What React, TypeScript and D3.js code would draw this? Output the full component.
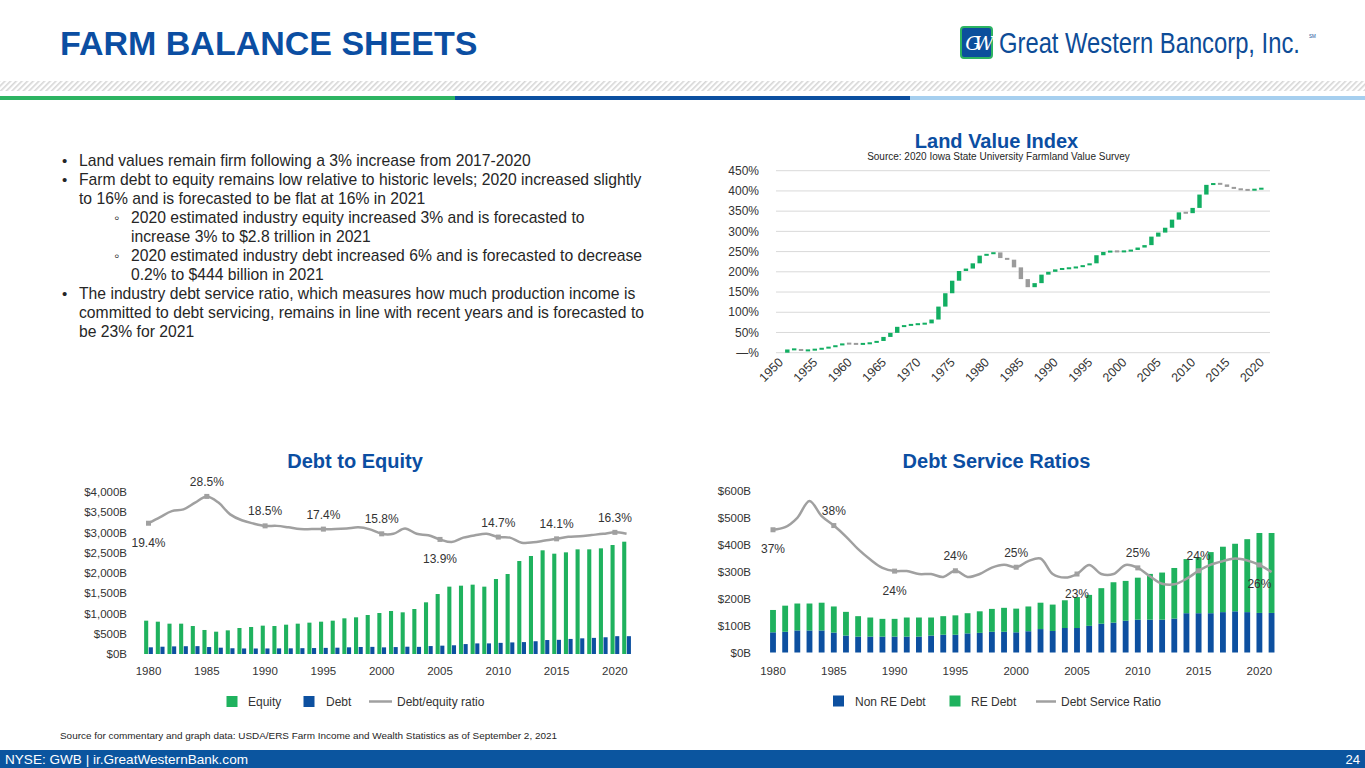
import React from 'react';
import * as d3 from 'd3';

const FONT = '"Liberation Sans", Arial, Helvetica, sans-serif';
const TITLE_BLUE = '#0B4EA2';
const GREEN = '#1FB25E';
const WF_GREEN = '#12AE62';
const WF_GRAY = '#9B9B9B';
const BLUE = '#0D50A0';
const LINE_GRAY = '#A0A0A0';
const TEXT = '#333333';

// ---------------- Land Value Index (annual change, % points of 1950 base) ----------------
const lvYears = d3.range(1950, 2021);
const lvChange = [
  0, 8, 0.5, -3.5, 1.5, 2, 2.5, 3, 4, 5,
  -1, -0.5, 0.5, 2.5, 4.5, 10, 10, 15, 3.5, 2.5,
  1, 1.5, 9.5, 32, 33, 31, 24, 6, 13, 19,
  4, 4, -14, -4, -19, -29, -20, 10, 21, 7,
  6, 2, 1.5, 2.5, 4, 5, 20, 8, 2, -1,
  1, 3, 6, 6, 21, 10, 12, 20, 18, -2,
  13, 33, 24, 4, -3, -6, -5, -2, -1, 2,
  3,
];
const lvTickYears = [1950, 1955, 1960, 1965, 1970, 1975, 1980, 1985, 1990, 1995, 2000, 2005, 2010, 2015, 2020];
const lvTicks = [0, 50, 100, 150, 200, 250, 300, 350, 400, 450];

// ---------------- Debt to Equity ----------------
const deYears = d3.range(1980, 2022);
const deEquity = [
  823, 798, 749, 749, 691, 593, 551, 584, 642, 667,
  700, 691, 724, 749, 774, 798, 823, 881, 906, 963,
  1012, 1062, 1029, 1111, 1276, 1481, 1663, 1687, 1712, 1663,
  1852, 1975, 2296, 2420, 2560, 2477, 2510, 2584, 2584, 2609,
  2691, 2773,
];
const deDebt = [
  165, 180, 188, 192, 194, 172, 156, 142, 137, 136,
  137, 139, 140, 144, 147, 151, 156, 165, 173, 176,
  164, 171, 180, 176, 196, 206, 215, 245, 262, 262,
  275, 286, 294, 315, 345, 350, 372, 387, 398, 413,
  440, 440,
];
const deRatio = [
  19.4, 21.5, 23.5, 24.1, 26.4, 28.5, 26.4, 22.4, 20.4, 19.3,
  18.5, 18.5, 18.0, 17.4, 17.4, 17.4, 17.4, 17.6, 18.0, 17.3,
  15.8, 15.8, 17.6, 15.8, 15.3, 13.9, 13.0, 14.5, 15.3, 15.8,
  14.7, 14.5, 12.8, 12.9, 13.5, 14.1, 14.8, 15.0, 15.4, 15.8,
  16.3, 15.8,
];
const deTicks = [0, 500, 1000, 1500, 2000, 2500, 3000, 3500, 4000];
const deLabelYears = [1980, 1985, 1990, 1995, 2000, 2005, 2010, 2015, 2020];
const deLabelBelow = [1980, 2005];
const xTickYears = [1980, 1985, 1990, 1995, 2000, 2005, 2010, 2015, 2020];

// ---------------- Debt Service Ratios ----------------
const dsYears = d3.range(1980, 2022);
const dsNonRE = [
  75, 77, 82, 82, 82, 74, 63, 59, 59, 59,
  59, 59, 59, 63, 66, 66, 71, 73, 77, 77,
  75, 79, 87, 80, 91, 91, 99, 107, 111, 118,
  122, 122, 122, 126, 146, 146, 146, 150, 153, 150,
  147, 147,
];
const dsRE = [
  83, 97, 100, 100, 103, 97, 88, 76, 71, 66,
  66, 71, 71, 67, 69, 72, 75, 80, 85, 89,
  88, 92, 98, 98, 103, 115, 115, 132, 150, 148,
  156, 170, 175, 188, 201, 208, 227, 243, 251, 271,
  297, 297,
];
const dsRatio = [
  37, 37.8, 40.7, 45.9, 41.2, 38.3, 34.9, 31, 27.8, 25.2,
  24.2, 24.2, 23.3, 23.3, 22.4, 24.3, 22.4, 23.3, 25.3, 26.2,
  25.4, 27.3, 28.1, 23.3, 22.2, 23.3, 26.1, 23.3, 23.3, 26.1,
  25.2, 22.6, 20.3, 20.1, 21.8, 24.3, 26.2, 27.3, 28.1, 27.5,
  26.1, 23.9,
];
const dsTicks = [0, 100, 200, 300, 400, 500, 600];
const dsLabelYears = [1980, 1985, 1990, 1995, 2000, 2005, 2010, 2015, 2020];
const dsLabelBelow = [1980, 1990, 2005, 2020];

// ---------------- Text ----------------
const bulletLines = [
  { mark: '•', text: 'Land values remain firm following a 3% increase from 2017-2020', level: 0 },
  { mark: '•', text: 'Farm debt to equity remains low relative to historic levels; 2020 increased slightly', level: 0 },
  { mark: '', text: 'to 16% and is forecasted to be flat at 16% in 2021', level: 0 },
  { mark: '◦', text: '2020 estimated industry equity increased 3% and is forecasted to', level: 1 },
  { mark: '', text: 'increase 3% to $2.8 trillion in 2021', level: 1 },
  { mark: '◦', text: '2020 estimated industry debt increased 6% and is forecasted to decrease', level: 1 },
  { mark: '', text: '0.2% to $444 billion in 2021', level: 1 },
  { mark: '•', text: 'The industry debt service ratio, which measures how much production income is', level: 0 },
  { mark: '', text: 'committed to debt servicing, remains in line with recent years and is forecasted to', level: 0 },
  { mark: '', text: 'be 23% for 2021', level: 0 },
];

function Header() {
  return (
    <g>
      <text x={60} y={55} fontSize={34} fontWeight="bold" fill={TITLE_BLUE}>FARM BALANCE SHEETS</text>
      <rect x={961} y={27} width={31} height={31} rx={3} fill="#0B4F9C" stroke="#2DB462" strokeWidth={2} />
      <text x={976.5} y={50} textAnchor="middle" fontFamily='"DejaVu Serif", serif' fontStyle="italic" fontSize={19} fill="#fff" letterSpacing={-6}>GW</text>
      <text transform="translate(999,53) scale(1,1.2)" fontSize={23.8} fill="#0D4C97">Great Western Bancorp, Inc.</text>
      <text x={1309} y={38} fontSize={4.5} fill="#0D4C97">SM</text>
      <rect x={0} y={81} width={1365} height={10} fill="url(#hatch)" />
      <rect x={0} y={96} width={455} height={4} fill="#2DB462" />
      <rect x={455} y={96} width={455} height={4} fill="#0B4FA0" />
      <rect x={910} y={96} width={455} height={4} fill="#A6CFEF" />
    </g>
  );
}

function Bullets() {
  return (
    <g fontSize={15.7} fill="#262626">
      {bulletLines.map((l, i) => {
        const y = 165.5 + i * 19.1;
        const mx = l.level === 0 ? 62 : 114;
        const tx = l.level === 0 ? 79 : 131;
        return (
          <g key={i}>
            {l.mark && <text x={mx} y={y} fontSize={15}>{l.mark}</text>}
            <text x={tx} y={y}>{l.text}</text>
          </g>
        );
      })}
    </g>
  );
}

function LandValue() {
  const step = 6.87;
  const x = d3.scaleBand<number>().domain(lvYears).range([777, 777 + lvYears.length * step]).paddingInner(0.36).paddingOuter(0.18);
  const y = d3.scaleLinear().domain([0, 450]).range([352.7, 170.7]);
  const cum = Array.from(d3.cumsum(lvChange));
  const bw = x.bandwidth();
  return (
    <g>
      <text x={996.5} y={148} textAnchor="middle" fontSize={20} fontWeight="bold" fill={TITLE_BLUE}>Land Value Index</text>
      <text x={998.5} y={160} textAnchor="middle" fontSize={10} fill="#262626">Source: 2020 Iowa State University Farmland Value Survey</text>
      {lvTicks.map((t) => (
        <g key={t}>
          <line x1={776} x2={1270} y1={y(t)} y2={y(t)} stroke="#D9D9D9" strokeWidth={1} />
          <text x={759} y={y(t) + 4.2} textAnchor="end" fontSize={12} fill={TEXT}>{t === 0 ? '—%' : `${t}%`}</text>
        </g>
      ))}
      {lvYears.map((yr, i) => {
        const ch = lvChange[i];
        if (ch === 0) return null;
        const end = cum[i];
        const start = end - ch;
        const y0 = y(Math.max(start, end));
        const y1 = y(Math.min(start, end));
        let h = y1 - y0;
        let top = y0;
        if (h < 2) {
          top = (y0 + y1) / 2 - 1;
          h = 2;
        }
        return <rect key={yr} x={x(yr)} y={top} width={bw} height={h} fill={ch > 0 ? WF_GREEN : WF_GRAY} />;
      })}
      {lvTickYears.map((yr) => {
        const cx = (x(yr) as number) + bw / 2 + 3.5;
        return (
          <text key={yr} transform={`translate(${cx},363) rotate(-45)`} textAnchor="end" fontSize={12.5} fill={TEXT}>{yr}</text>
        );
      })}
    </g>
  );
}

function DebtEquity() {
  const step = 11.66;
  const x = d3.scaleBand<number>().domain(deYears).range([142.67, 142.67 + deYears.length * step]).paddingInner(0.25).paddingOuter(0.125);
  const x1 = d3.scaleBand<string>().domain(['equity', 'debt']).range([0, x.bandwidth()]).paddingInner(0.12);
  const y = d3.scaleLinear().domain([0, 4000]).range([654, 492]);
  const r = d3.scaleLinear().domain([-25, 30]).range([654, 492]);
  const cx = (yr: number) => (x(yr) as number) + x.bandwidth() / 2;
  const line = d3.line<number>().x((_, i) => cx(deYears[i])).y((d) => r(d)).curve(d3.curveCatmullRom.alpha(0.5));
  const fmt = d3.format(',');
  return (
    <g>
      <text x={355} y={468} textAnchor="middle" fontSize={20} fontWeight="bold" fill={TITLE_BLUE}>Debt to Equity</text>
      {deTicks.map((t) => (
        <text key={t} x={127} y={y(t) + 4} textAnchor="end" fontSize={11.5} fill={TEXT}>{`$${fmt(t)}B`}</text>
      ))}
      {deYears.map((yr, i) => (
        <g key={yr}>
          <rect x={(x(yr) as number) + (x1('equity') as number)} y={y(deEquity[i])} width={x1.bandwidth()} height={y(0) - y(deEquity[i])} fill={GREEN} />
          <rect x={(x(yr) as number) + (x1('debt') as number)} y={y(deDebt[i])} width={x1.bandwidth()} height={y(0) - y(deDebt[i])} fill={BLUE} />
        </g>
      ))}
      <path d={line(deRatio) || ''} fill="none" stroke={LINE_GRAY} strokeWidth={2.5} />
      {deLabelYears.map((yr) => {
        const i = deYears.indexOf(yr);
        const px = cx(yr);
        const py = r(deRatio[i]);
        const below = deLabelBelow.includes(yr);
        return (
          <g key={yr}>
            <rect x={px - 2.5} y={py - 2.5} width={5} height={5} fill={LINE_GRAY} />
            <text x={px} y={below ? py + 23.5 : py - 10.5} textAnchor="middle" fontSize={12} fill={TEXT}>{`${d3.format('.1f')(deRatio[i])}%`}</text>
          </g>
        );
      })}
      {xTickYears.map((yr) => (
        <text key={yr} x={cx(yr)} y={674.5} textAnchor="middle" fontSize={11.5} fill={TEXT}>{yr}</text>
      ))}
      <g fontSize={12} fill={TEXT}>
        <rect x={226.5} y={696} width={11} height={11} fill={GREEN} />
        <text x={248} y={705.5}>Equity</text>
        <rect x={303.5} y={696} width={11} height={11} fill={BLUE} />
        <text x={326} y={705.5}>Debt</text>
        <line x1={369} x2={392} y1={701.5} y2={701.5} stroke={LINE_GRAY} strokeWidth={2.5} />
        <text x={397} y={705.5}>Debt/equity ratio</text>
      </g>
    </g>
  );
}

function DebtService() {
  const step = 12.16;
  const x = d3.scaleBand<number>().domain(dsYears).range([766.92, 766.92 + dsYears.length * step]).paddingInner(0.52).paddingOuter(0.26);
  const y = d3.scaleLinear().domain([0, 600]).range([652.5, 491]);
  const r = d3.scaleLinear().domain([-1, 49]).range([652.5, 491]);
  const cx = (yr: number) => (x(yr) as number) + x.bandwidth() / 2;
  const line = d3.line<number>().x((_, i) => cx(dsYears[i])).y((d) => r(d)).curve(d3.curveCatmullRom.alpha(0.5));
  return (
    <g>
      <text x={996.5} y={468} textAnchor="middle" fontSize={20} fontWeight="bold" fill={TITLE_BLUE}>Debt Service Ratios</text>
      {dsTicks.map((t) => (
        <text key={t} x={751} y={y(t) + 4} textAnchor="end" fontSize={11.5} fill={TEXT}>{`$${t}B`}</text>
      ))}
      {dsYears.map((yr, i) => {
        const nre = dsNonRE[i];
        const re = dsRE[i];
        return (
          <g key={yr}>
            <rect x={x(yr)} y={y(nre)} width={x.bandwidth()} height={y(0) - y(nre)} fill={BLUE} />
            <rect x={x(yr)} y={y(nre + re)} width={x.bandwidth()} height={y(nre) - y(nre + re)} fill={GREEN} />
          </g>
        );
      })}
      <path d={line(dsRatio) || ''} fill="none" stroke={LINE_GRAY} strokeWidth={2.5} />
      {dsLabelYears.map((yr) => {
        const i = dsYears.indexOf(yr);
        const px = cx(yr);
        const py = r(dsRatio[i]);
        const below = dsLabelBelow.includes(yr);
        return (
          <g key={yr}>
            <rect x={px - 2.5} y={py - 2.5} width={5} height={5} fill={LINE_GRAY} />
            <text x={px} y={below ? py + 23.5 : py - 10.5} textAnchor="middle" fontSize={12} fill={TEXT}>{`${d3.format('.0f')(dsRatio[i])}%`}</text>
          </g>
        );
      })}
      {xTickYears.map((yr) => (
        <text key={yr} x={cx(yr)} y={674.5} textAnchor="middle" fontSize={11.5} fill={TEXT}>{yr}</text>
      ))}
      <g fontSize={12} fill={TEXT}>
        <rect x={833} y={695.5} width={11} height={11} fill={BLUE} />
        <text x={855} y={705.5}>Non RE Debt</text>
        <rect x={949.5} y={695.5} width={11} height={11} fill={GREEN} />
        <text x={971} y={705.5}>RE Debt</text>
        <line x1={1036} x2={1056} y1={701.5} y2={701.5} stroke={LINE_GRAY} strokeWidth={2.5} />
        <text x={1061} y={705.5}>Debt Service Ratio</text>
      </g>
    </g>
  );
}

function Footer() {
  return (
    <g>
      <text x={60} y={738.5} fontSize={9.6} fill="#262626" textLength={497} lengthAdjust="spacingAndGlyphs">Source for commentary and graph data: USDA/ERS Farm Income and Wealth Statistics as of September 2, 2021</text>
      <rect x={0} y={750} width={1365} height={18} fill="#0B559F" />
      <text x={5} y={764} fontSize={13} fill="#fff" textLength={243} lengthAdjust="spacingAndGlyphs">NYSE: GWB  |  ir.GreatWesternBank.com</text>
      <text x={1360} y={764} fontSize={13} fill="#fff" textAnchor="end">24</text>
    </g>
  );
}

export default function App() {
  return (
    <div style={{ position: 'absolute', left: 0, top: 0, width: 1365, height: 768, overflow: 'hidden', background: '#fff' }}>
      <svg width={1365} height={768} viewBox="0 0 1365 768" style={{ display: 'block', fontFamily: FONT }}>
        <defs>
          <pattern id="hatch" width="4" height="4" patternUnits="userSpaceOnUse" patternTransform="rotate(45)">
            <rect width="1.6" height="4" fill="#D6D6D6" />
          </pattern>
        </defs>
        <rect width={1365} height={768} fill="#fff" />
        <Header />
        <Bullets />
        <LandValue />
        <DebtEquity />
        <DebtService />
        <Footer />
      </svg>
    </div>
  );
}
